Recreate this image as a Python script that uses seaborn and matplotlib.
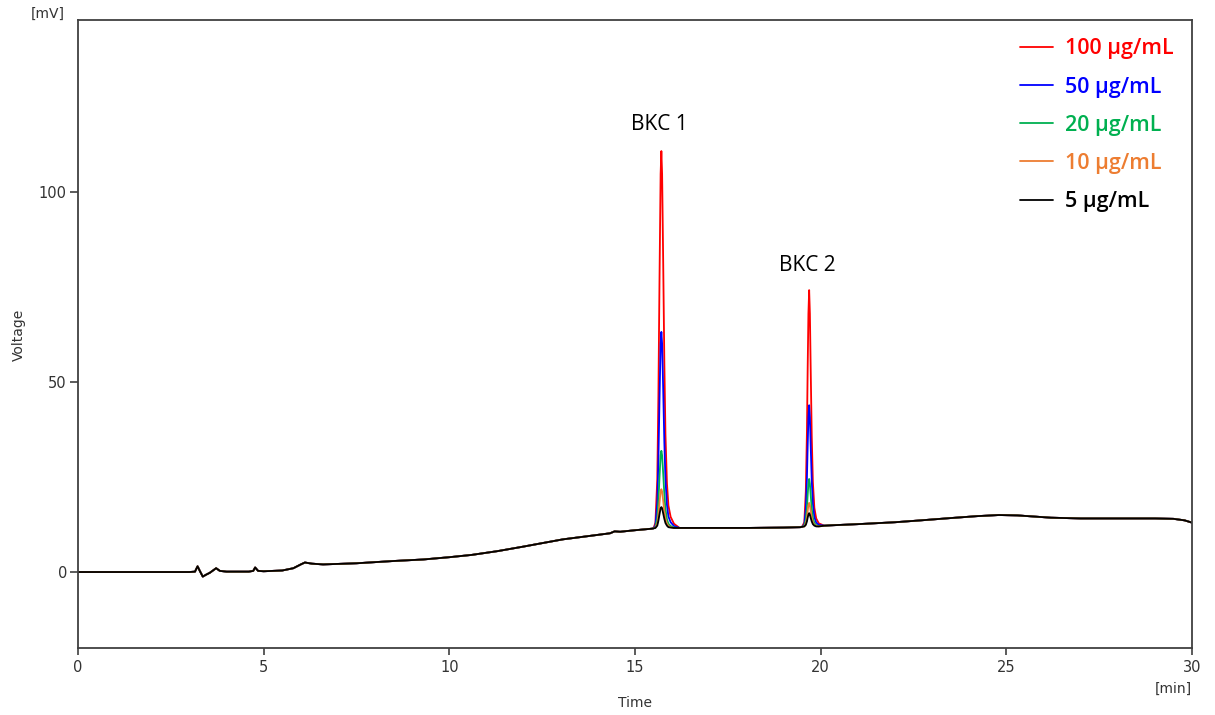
import numpy as np
import pandas as pd
import matplotlib
matplotlib.use("Agg")
import matplotlib.pyplot as plt
import seaborn as sns
from matplotlib.lines import Line2D

# ---------------- data ----------------
series_labels = ["100 µg/mL", "50 µg/mL", "20 µg/mL", "10 µg/mL", "5 µg/mL"]
series_colors = ["#FF0000", "#0000FF", "#00B050", "#ED7D31", "#000000"]

# shared baseline before BKC 1
base_a_t = [0, 1, 2, 3, 3.15, 3.22, 3.28, 3.36, 3.45, 3.55, 3.72, 3.82, 4.0, 4.6, 4.72,
            4.77, 4.85, 5.0, 5.5, 5.8, 6.0, 6.11, 6.3, 6.6, 7.5, 8.5, 9.3, 10.0, 10.6,
            11.3, 12.0, 12.5, 13.06, 13.7, 14.33, 14.45, 14.6, 15.0, 15.45]
base_a_v = [0.0, 0.0, 0.0, 0.0, 0.1, 1.5, 0.3, -1.2, -0.7, -0.2, 1.0, 0.3, 0.1, 0.1, 0.3,
            1.2, 0.3, 0.2, 0.4, 1.0, 2.0, 2.5, 2.2, 2.0, 2.3, 2.9, 3.3, 3.9, 4.5,
            5.5, 6.7, 7.6, 8.6, 9.4, 10.2, 10.7, 10.6, 11.0, 11.4]

# BKC 1 peak region
peak1_t = [15.50, 15.55, 15.60, 15.63, 15.66, 15.69, 15.71, 15.73, 15.76, 15.79,
           15.82, 15.86, 15.90, 15.96, 16.05, 16.20]
peak1_100 = [11.5, 13.0, 24.4, 46.3, 77.0, 104.8, 110.8, 104.8, 81.0, 55.2, 36.3, 23.4, 17.5, 14.5, 12.7, 11.6]
peak1_50 = [11.5, 12.3, 18.2, 29.6, 45.6, 60.1, 63.2, 60.1, 47.7, 34.2, 24.4, 17.7, 14.6, 13.1, 12.1, 11.6]
peak1_20 = [11.5, 11.8, 14.2, 18.6, 25.0, 30.7, 31.9, 30.7, 25.8, 20.5, 16.6, 13.9, 12.7, 12.1, 11.7, 11.6]
peak1_10 = [11.5, 11.7, 12.8, 15.1, 18.3, 21.2, 21.8, 21.2, 18.7, 16.0, 14.1, 12.7, 12.1, 11.8, 11.6, 11.6]
peak1_5 = [11.5, 11.6, 12.2, 13.5, 15.2, 16.8, 17.1, 16.8, 15.4, 14.0, 12.9, 12.2, 11.8, 11.7, 11.6, 11.6]

# shared baseline between peaks
base_b_t = [17.0, 18.0, 19.0, 19.45]
base_b_v = [11.6, 11.6, 11.7, 11.8]

# BKC 2 peak region
peak2_t = [19.50, 19.56, 19.60, 19.63, 19.65, 19.67, 19.69, 19.71, 19.73, 19.76,
           19.79, 19.83, 19.88, 19.95, 20.10]
peak2_100 = [11.9, 13.1, 21.2, 36.8, 53.6, 68.0, 74.2, 68.0, 54.3, 35.6, 23.7, 16.9, 14.1, 12.8, 12.2]
peak2_50 = [11.9, 12.5, 16.7, 24.7, 33.3, 40.7, 43.9, 40.7, 33.7, 24.1, 18.0, 14.5, 13.0, 12.4, 12.2]
peak2_20 = [11.9, 12.2, 13.8, 16.9, 20.3, 23.2, 24.5, 23.2, 20.5, 16.7, 14.3, 12.9, 12.3, 12.1, 12.2]
peak2_10 = [11.9, 12.0, 12.8, 14.4, 16.1, 17.6, 18.2, 17.6, 16.2, 14.3, 13.1, 12.4, 12.1, 12.0, 12.2]
peak2_5 = [11.9, 12.0, 12.4, 13.3, 14.3, 15.1, 15.5, 15.1, 14.3, 13.3, 12.6, 12.2, 12.0, 12.0, 12.2]

# shared baseline after BKC 2
base_c_t = [20.3, 21.0, 22.0, 22.7, 23.5, 24.2, 24.8, 25.3, 26.2, 27.0, 28.0, 29.0, 29.5, 29.8, 30.0]
base_c_v = [12.3, 12.6, 13.1, 13.6, 14.2, 14.7, 15.0, 14.9, 14.3, 14.1, 14.1, 14.1, 14.0, 13.6, 13.0]

peak1_sets = [peak1_100, peak1_50, peak1_20, peak1_10, peak1_5]
peak2_sets = [peak2_100, peak2_50, peak2_20, peak2_10, peak2_5]

x_ticks = [0, 5, 10, 15, 20, 25, 30]
y_ticks = [0, 50, 100]

# ---------------- assemble long table ----------------
rows = []
time_all = base_a_t + peak1_t + base_b_t + peak2_t + base_c_t
for lab, p1, p2 in zip(series_labels, peak1_sets, peak2_sets):
    vals = base_a_v + p1 + base_b_v + p2 + base_c_v
    for t, v in zip(time_all, vals):
        rows.append({"Time": t, "Voltage": v, "Conc": lab})
df = pd.DataFrame(rows)

# ---------------- plot ----------------
sns.set_style("white")
plt.rcParams["font.family"] = ["DejaVu Sans"]

fig = plt.figure(figsize=(12.15, 7.15), dpi=100)
ax = fig.add_axes([78 / 1215, 1 - 648 / 715, (1192 - 78) / 1215, (648 - 20) / 715])

palette = dict(zip(series_labels, series_colors))
sns.lineplot(data=df, x="Time", y="Voltage", hue="Conc", hue_order=series_labels,
             palette=palette, sort=False, estimator=None, linewidth=1.3,
             legend=False, ax=ax)

ax.set_xlim(0, 30)
ax.set_ylim(-20, 145.3)
ax.set_xticks(x_ticks)
ax.set_yticks(y_ticks)
for s in ax.spines.values():
    s.set_color("#404040")
    s.set_linewidth(1.3)
ax.tick_params(axis="x", direction="out", length=5, width=1.2, color="#404040",
               labelsize=10.5, labelcolor="#333333", pad=4, bottom=True)
ax.tick_params(axis="y", direction="out", length=6, width=1.2, color="#404040",
               labelsize=10.5, labelcolor="#333333", pad=2, left=True)

ax.set_xlabel("Time", fontsize=10, color="#333333")
ax.set_ylabel("Voltage", fontsize=10, color="#333333")
ax.xaxis.set_label_coords((635 - 78) / (1192 - 78), -(696 - 648) / (648 - 20))
ax.yaxis.set_label_coords(-(78 - 26) / (1192 - 78), (648 - 335) / (648 - 20))

fig.text(48 / 1215, 1 - 14 / 715, "[mV]", ha="center", va="center", fontsize=10, color="#333333")
fig.text(1173 / 1215, 1 - 689 / 715, "[min]", ha="center", va="center", fontsize=10, color="#333333")

ax.text(15.65, 117.9, "BKC 1", ha="center", va="center", fontsize=15,
        family=["Open Sans", "DejaVu Sans"], color="black")
ax.text(19.65, 80.8, "BKC 2", ha="center", va="center", fontsize=15,
        family=["Open Sans", "DejaVu Sans"], color="black")

handles = [Line2D([0], [0], color=c, lw=1.3) for c in series_colors]
leg = ax.legend(handles, series_labels, loc="upper right", frameon=False,
                prop={"family": ["Open Sans", "DejaVu Sans"], "weight": "semibold", "size": 15.5},
                labelcolor=series_colors, handlelength=1.55, handletextpad=0.55,
                labelspacing=0.8, borderaxespad=0.45)

fig.savefig("out.png", dpi=100)
